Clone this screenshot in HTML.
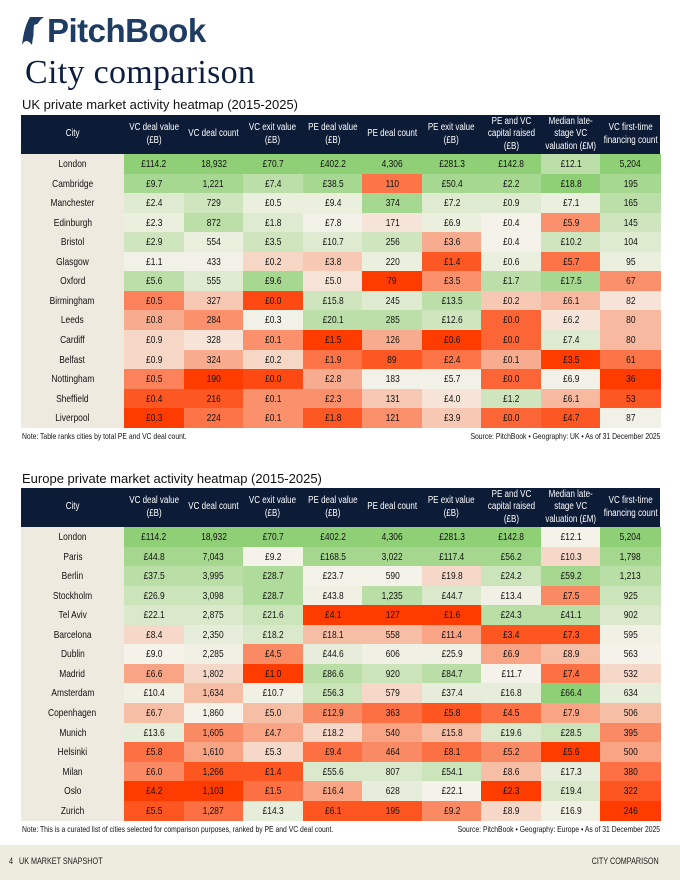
<!DOCTYPE html>
<html><head><meta charset="utf-8">
<style>
*{margin:0;padding:0;box-sizing:border-box}
body{width:680px;height:880px;background:#fff;position:relative;overflow:hidden;font-family:"Liberation Sans",sans-serif;color:#1a1a1a}
.abs{position:absolute}
.tbl{position:absolute;left:21px;width:639px}
.hdr{position:absolute;left:0;top:0;width:639px;background:#0c1b36}
.hc{position:absolute;top:0;display:flex;align-items:center;justify-content:center;text-align:center;color:#fff;font-size:10px;line-height:12.5px}
.cell{position:absolute;display:flex;align-items:center;justify-content:center;font-size:10.5px;color:#111}
.sq{display:inline-block;transform:scaleX(0.8);white-space:nowrap}
.note{position:absolute;font-size:8.5px;color:#111}
</style></head><body>
<div class="abs" style="left:20px;top:13px;height:36px;display:flex;align-items:center">
<svg width="26" height="32" viewBox="0 0 26 32"><path d="M10 2 L24 2 Q14 8 12 30 Q6 22 2 30 Q4 12 10 2Z" fill="#1f3c63"/><path d="M14 10 Q18 8 22 9 Q16 14 14 28 Q13 18 14 10Z" fill="#fff"/></svg>
<span style="font-size:33px;font-weight:bold;color:#1f3c63;letter-spacing:-0.5px;margin-left:1px">PitchBook</span></div>
<div class="abs" style="left:25px;top:54px;font-family:'Liberation Serif',serif;font-size:34px;color:#0d1f3c;letter-spacing:0.3px">City comparison</div>
<div class="abs" style="left:22px;top:97px;font-size:13px;color:#111">UK private market activity heatmap (2015-2025)</div>
<div class="tbl" id="uk" style="top:115px"></div>
<div class="note" style="left:22px;top:431px"><span class="sq" style="transform-origin:left">Note: Table ranks cities by total PE and VC deal count.</span></div>
<div class="note" style="right:20px;top:431px;text-align:right"><span class="sq" style="transform-origin:right">Source: PitchBook • Geography: UK • As of 31 December 2025</span></div>
<div class="abs" style="left:22px;top:471px;font-size:13px;color:#111">Europe private market activity heatmap (2015-2025)</div>
<div class="tbl" id="eu" style="top:488px"></div>
<div class="note" style="left:22px;top:824px"><span class="sq" style="transform-origin:left">Note: This is a curated list of cities selected for comparison purposes, ranked by PE and VC deal count.</span></div>
<div class="note" style="right:20px;top:824px;text-align:right"><span class="sq" style="transform-origin:right">Source: PitchBook • Geography: Europe • As of 31 December 2025</span></div>
<div class="abs" style="left:0;top:845px;width:680px;height:35px;background:#eeebdf">
<div class="abs" style="left:9px;top:11px;font-size:9px"><span class="sq" style="transform-origin:left">4&nbsp;&nbsp; UK MARKET SNAPSHOT</span></div>
<div class="abs" style="right:21px;top:11px;font-size:9px"><span class="sq" style="transform-origin:right">CITY COMPARISON</span></div>
</div>
<script>
const headers = ["City","VC deal value<br>(£B)","VC deal count","VC exit value<br>(£B)","PE deal value<br>(£B)","PE deal count","PE exit value<br>(£B)","PE and VC<br>capital raised<br>(£B)","Median late-<br>stage VC<br>valuation (£M)","VC first-time<br>financing count"];
const colMoney = [true,false,true,true,false,true,true,true,false];
const ukCities = ["London","Cambridge","Manchester","Edinburgh","Bristol","Glasgow","Oxford","Birmingham","Leeds","Cardiff","Belfast","Nottingham","Sheffield","Liverpool"];
const ukVcDealValue = [114.2,9.7,2.4,2.3,2.9,1.1,5.6,0.5,0.8,0.9,0.9,0.5,0.4,0.3];
const ukVcDealCount = [18932,1221,729,872,554,433,555,327,284,328,324,190,216,224];
const ukVcExitValue = [70.7,7.4,0.5,1.8,3.5,0.2,9.6,0.0,0.3,0.1,0.2,0.0,0.1,0.1];
const ukPeDealValue = [402.2,38.5,9.4,7.8,10.7,3.8,5.0,15.8,20.1,1.5,1.9,2.8,2.3,1.8];
const ukPeDealCount = [4306,110,374,171,256,220,79,245,285,126,89,183,131,121];
const ukPeExitValue = [281.3,50.4,7.2,6.9,3.6,1.4,3.5,13.5,12.6,0.6,2.4,5.7,4.0,3.9];
const ukCapitalRaised = [142.8,2.2,0.9,0.4,0.4,0.6,1.7,0.2,0.0,0.0,0.1,0.0,1.2,0.0];
const ukMedianValuation = [12.1,18.8,7.1,5.9,10.2,5.7,17.5,6.1,6.2,7.4,3.5,6.9,6.1,4.7];
const ukFirstTimeCount = [5204,195,165,145,104,95,67,82,80,80,61,36,53,87];
const euCities = ["London","Paris","Berlin","Stockholm","Tel Aviv","Barcelona","Dublin","Madrid","Amsterdam","Copenhagen","Munich","Helsinki","Milan","Oslo","Zurich"];
const euVcDealValue = [114.2,44.8,37.5,26.9,22.1,8.4,9.0,6.6,10.4,6.7,13.6,5.8,6.0,4.2,5.5];
const euVcDealCount = [18932,7043,3995,3098,2875,2350,2285,1802,1634,1860,1605,1610,1266,1103,1287];
const euVcExitValue = [70.7,9.2,28.7,28.7,21.6,18.2,4.5,1.0,10.7,5.0,4.7,5.3,1.4,1.5,14.3];
const euPeDealValue = [402.2,168.5,23.7,43.8,4.1,18.1,44.6,86.6,56.3,12.9,18.2,9.4,55.6,16.4,6.1];
const euPeDealCount = [4306,3022,590,1235,127,558,606,920,579,363,540,464,807,628,195];
const euPeExitValue = [281.3,117.4,19.8,44.7,1.6,11.4,25.9,84.7,37.4,5.8,15.8,8.1,54.1,22.1,9.2];
const euCapitalRaised = [142.8,56.2,24.2,13.4,24.3,3.4,6.9,11.7,16.8,4.5,19.6,5.2,8.6,2.3,8.9];
const euMedianValuation = [12.1,10.3,59.2,7.5,41.1,7.3,8.9,7.4,66.4,7.9,28.5,5.6,17.3,19.4,16.9];
const euFirstTimeCount = [5204,1798,1213,925,902,595,563,532,634,506,395,500,380,322,246];

const ukCols=[ukVcDealValue,ukVcDealCount,ukVcExitValue,ukPeDealValue,ukPeDealCount,ukPeExitValue,ukCapitalRaised,ukMedianValuation,ukFirstTimeCount];
const euCols=[euVcDealValue,euVcDealCount,euVcExitValue,euPeDealValue,euPeDealCount,euPeExitValue,euCapitalRaised,euMedianValuation,euFirstTimeCount];

function lerp(a,b,t){return a.map((v,i)=>Math.round(v+(b[i]-v)*t));}
const RED=[255,60,0], MID=[244,242,233], GREEN=[143,208,118];
function colorFor(col,v){
  const n=col.length;let less=0,eq=0;
  col.forEach(x=>{if(x<v)less++;else if(x===v)eq++;});
  const p=(less+(eq-1)/2)/(n-1);
  let c;
  if(p<0.5){c=lerp(RED,MID,Math.pow(p/0.5,1.0));}else{c=lerp(MID,GREEN,Math.pow((p-0.5)/0.5,1.6));}
  return 'rgb('+c.join(',')+')';
}
function fmt(v,money){return money?'£'+v.toFixed(1):v.toLocaleString('en-US');}
function build(id,cities,cols,slug){
  const root=document.getElementById(id);
  const cityW=103, colW=(639-cityW)/9, hH=39, rH=19.55;
  const hdr=document.createElement('div');hdr.className='hdr';hdr.style.height=hH+'px';
  
  
  root.appendChild(hdr);
  headers.forEach((h,i)=>{
    const d=document.createElement('div');d.className='hc';
    d.style.left=(i===0?0:cityW+(i-1)*colW)+'px';d.style.width=(i===0?cityW:colW)+'px';d.style.height=hH+'px';
    d.innerHTML='<span class="sq">'+h+'</span>';
    
    
    hdr.appendChild(d);
  });
  cities.forEach((c,r)=>{
    const top=hH+r*rH;
    const cc=document.createElement('div');cc.className='cell';
    cc.style.cssText+='left:0;top:'+top+'px;width:'+cityW+'px;height:'+(rH+0.6)+'px;background:#efeadf';
    cc.innerHTML='<span class="sq">'+c+'</span>';
    
    
    root.appendChild(cc);
    cols.forEach((col,j)=>{
      const v=col[r];
      const d=document.createElement('div');d.className='cell';
      d.style.cssText+='left:'+(cityW+j*colW)+'px;top:'+top+'px;width:'+(colW+0.6)+'px;height:'+(rH+0.6)+'px;background:'+colorFor(col,v);
      d.innerHTML='<span class="sq">'+fmt(v,colMoney[j])+'</span>';
      
      
      root.appendChild(d);
    });
  });
  root.style.height=(hH+cities.length*rH)+'px';
}
build('uk',ukCities,ukCols,'uk');
build('eu',euCities,euCols,'europe');
</script>
</body></html>
